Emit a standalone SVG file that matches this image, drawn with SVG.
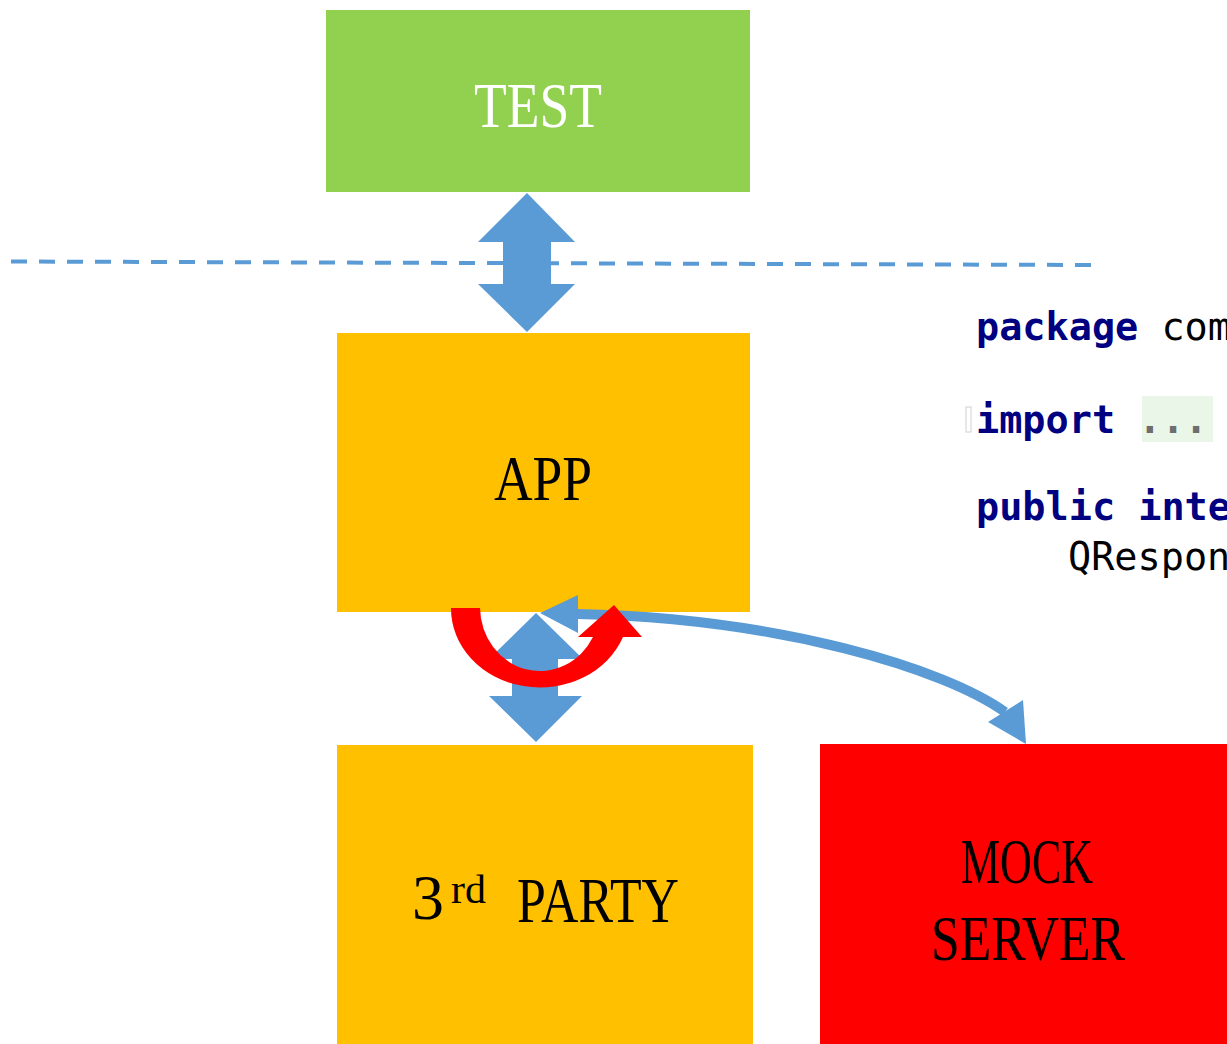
<svg xmlns="http://www.w3.org/2000/svg" width="1227" height="1044" viewBox="0 0 1227 1044">
  <defs>
    <style>
      .box-label { font-family: "Liberation Serif", "Times New Roman", serif; font-size: 64px; }
      .sup { font-size: 40px; }
      .code { font-family: "DejaVu Sans Mono", "Liberation Mono", monospace; font-size: 38.5px; }
      .kw { fill: #000080; font-weight: bold; }
      .plain { fill: #000000; }
      .blue { fill: #5B9BD5; }
    </style>
  </defs>
  <rect width="1227" height="1044" fill="#FFFFFF"/>

  <!-- code snippet -->
  <g id="code-snippet">
    <rect x="966" y="407" width="5" height="25" fill="none" stroke="#D0D0D0" stroke-width="1"/>
    <rect x="1142" y="396" width="71" height="46" fill="#E9F6E8"/>
    <text class="code" x="976" y="340"><tspan class="kw">package</tspan><tspan class="plain"> com</tspan></text>
    <text class="code" x="976" y="433"><tspan class="kw">import</tspan><tspan class="plain"> </tspan><tspan fill="#6E6E6E" font-weight="bold">...</tspan></text>
    <text class="code" x="976" y="520"><tspan class="kw">public inte</tspan></text>
    <text class="code plain" x="1068" y="570">QRespon</text>
  </g>

  <!-- nodes -->
  <g id="test">
    <rect x="326" y="10" width="424" height="182" fill="#92D050"/>
    <text class="box-label" x="474" y="127" fill="#FFFFFF" textLength="128" lengthAdjust="spacingAndGlyphs">TEST</text>
  </g>
  <g id="app">
    <rect x="337" y="333" width="413" height="279" fill="#FFC000"/>
    <text class="box-label" x="494" y="500" fill="#000000" textLength="98" lengthAdjust="spacingAndGlyphs">APP</text>
  </g>
  <g id="third-party">
    <rect x="337" y="745" width="416" height="299" fill="#FFC000"/>
    <text class="box-label" x="412" y="919" fill="#000000" textLength="32" lengthAdjust="spacingAndGlyphs">3</text>
    <text class="box-label sup" x="451" y="903" fill="#000000" textLength="35" lengthAdjust="spacingAndGlyphs">rd</text>
    <text class="box-label" x="517" y="922" fill="#000000" textLength="162" lengthAdjust="spacingAndGlyphs">PARTY</text>
  </g>
  <g id="mock-server">
    <rect x="820" y="744" width="407" height="300" fill="#FF0000"/>
    <text class="box-label" x="961" y="883" fill="#000000" textLength="132" lengthAdjust="spacingAndGlyphs">MOCK</text>
    <text class="box-label" x="931" y="960" fill="#000000" textLength="194" lengthAdjust="spacingAndGlyphs">SERVER</text>
  </g>

  <!-- connectors -->
  <g id="connectors">
    <line x1="11" y1="261.5" x2="1091" y2="265" stroke="#5B9BD5" stroke-width="4" stroke-dasharray="16 12"/>
    <polygon class="blue" points="527,193 575,242 551,242 551,284 575,284 527,332 478,284 503,284 503,242 478,242"/>
    <polygon class="blue" points="536,613 583,659 558,659 558,696 582,696 536,742 489,696 512,696 512,659 489,659"/>
    <path d="M577,614 C780,618 945,669 1005,712" fill="none" stroke="#5B9BD5" stroke-width="10"/>
    <polygon class="blue" points="540,613 578,595 578,633"/>
    <polygon class="blue" points="1026,744 1023,700 988,722"/>
    <path d="M451,608 L480,608 A60,64 0 0 0 593,637 L578,637 L614,605 L642,637 L623,637 A89,79 0 0 1 451,608 Z" fill="#FF0000"/>
  </g>
</svg>
